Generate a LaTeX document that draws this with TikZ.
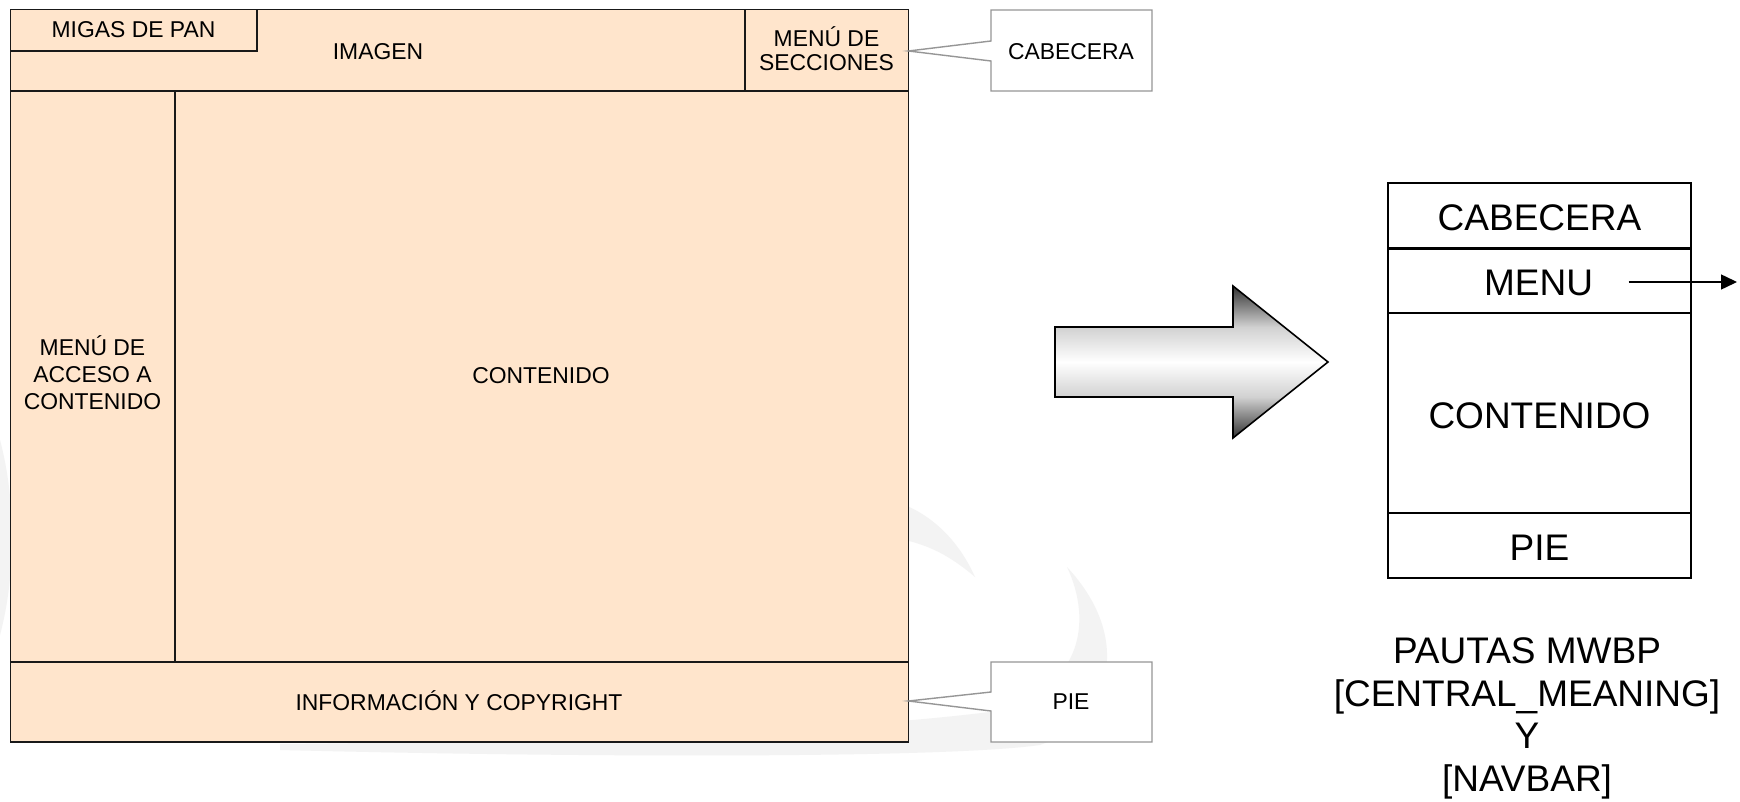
\documentclass[tikz,border=0pt]{standalone}
\usepackage{fontspec}
\setmainfont{Liberation Sans}
\usetikzlibrary{arrows.meta}
\definecolor{peach}{RGB}{255,229,204}
\definecolor{wmark}{RGB}{243,243,243}
\definecolor{calloutgray}{RGB}{150,150,150}
\pgfdeclareverticalshading{bigarrowshade}{100bp}{color(0bp)=(black!80); color(25bp)=(black!80); color(38.5bp)=(black!18); color(50bp)=(white); color(61.5bp)=(black!18); color(75bp)=(black!80); color(100bp)=(black!80)}
\begin{document}
\begin{tikzpicture}[x=0.5pt,y=-0.5pt,
  lefttxt/.style={font=\fontsize{11.45}{13.35}\selectfont, align=center, inner sep=0pt},
  righttxt/.style={font=\fontsize{18.5}{21.25}\selectfont, align=center, inner sep=0pt},
  frame/.style={draw=black!90, line width=0.8pt},
  callout/.style={draw=calloutgray, line width=0.7pt, fill=white, line join=miter},
  rowbox/.style={draw=black, line width=1pt, minimum width=151.5pt, inner sep=0pt},
  rowtxt/.style={font=\fontsize{18.5}{22}\selectfont, inner sep=0pt},
  bigarrow/.style={draw=black, line width=0.8pt, shading=bigarrowshade, line join=miter}]
\useasboundingbox (0,0) rectangle (1740,802);
\fill[white] (0,0) rectangle (1740,802);
% faint watermark
\fill[wmark] (0,440) .. controls (16,500) and (16,575) .. (0,635) -- cycle;
\fill[wmark] (905,505) .. controls (940,520) and (962,548) .. (975,577) .. controls (955,560) and (935,547) .. (905,540) -- cycle;
\fill[wmark] (280,750) .. controls (600,758) and (950,758) .. (1040,745) .. controls (1110,720) and (1135,640) .. (1067,567) .. controls (1092,620) and (1085,690) .. (990,712) .. controls (800,735) and (500,742) .. (280,744) -- cycle;
% left layout
\draw[frame, fill=peach] (10.5,9.5) rectangle (908.5,742);
\draw[frame] (10.5,91) -- (908.5,91);
\draw[frame] (175,91) -- (175,662);
\draw[frame] (10.5,662) -- (908.5,662);
\draw[frame] (257,9.5) -- (257,51) -- (10.5,51);
\draw[frame] (745,9.5) -- (745,91);
\node[lefttxt, anchor=base] (migas) at (133.5,37.5) {MIGAS DE PAN};
\node[lefttxt, anchor=base] (imagen) at (378,60) {IMAGEN};
\node[lefttxt, font=\fontsize{11.45}{11.75}\selectfont] (menusec) at (826.5,48.8) {MENÚ DE\\SECCIONES};
\node[lefttxt] (accmenu) at (92.5,372.7) {MENÚ DE\\ACCESO A\\CONTENIDO};
\node[lefttxt, anchor=base] (cont) at (541,383.5) {CONTENIDO};
\node[lefttxt, anchor=base] (info) at (459,710) {INFORMACIÓN Y COPYRIGHT};
% callouts
\draw[callout] (991,10) -- (1152,10) -- (1152,91) -- (991,91) -- (991,61) -- (908.5,51) -- (991,41) -- cycle;
\draw[callout] (991,662) -- (1152,662) -- (1152,742) -- (991,742) -- (991,711) -- (908.5,701) -- (991,692) -- cycle;
\node[lefttxt, anchor=base] (cabcall) at (1071,60) {CABECERA};
\node[lefttxt, anchor=base] (piecall) at (1071,709.5) {PIE};
% big arrow
\path[bigarrow] (1055,327) -- (1233,327) -- (1233,286) -- (1328,362) -- (1233,438) -- (1233,397) -- (1055,397) -- cycle;
% right layout
\node[rowbox, minimum height=32.5pt] (rcab) at (1539.5,215.5) {};
\node[rowbox, minimum height=32.5pt] (rmenu) at (1539.5,280.5) {};
\node[rowbox, minimum height=100pt] (rcont) at (1539.5,413) {};
\node[rowbox, minimum height=32.5pt] (rpie) at (1539.5,545.5) {};
\draw[black, line width=1.5pt] (rcab.south west) -- (rcab.south east);
\node[rowtxt] (tcab) at (1539.5,217.5) {CABECERA};
\node[rowtxt] (tmenu) at (1538.5,282.5) {MENU};
\node[rowtxt] (tcont) at (1539.5,416) {CONTENIDO};
\node[rowtxt] (tpie) at (1539.5,547.5) {PIE};
\coordinate (menuend) at (1737,282);
\draw[line width=0.7pt, -{Triangle[length=8pt,width=7.5pt]}] ([xshift=45pt]tmenu.center |- menuend) -- (menuend);
\node[righttxt] (pautas) at (1527,718.5) {PAUTAS MWBP\\{[}CENTRAL\_MEANING{]}\\Y\\{[}NAVBAR{]}};
\end{tikzpicture}
\end{document}
